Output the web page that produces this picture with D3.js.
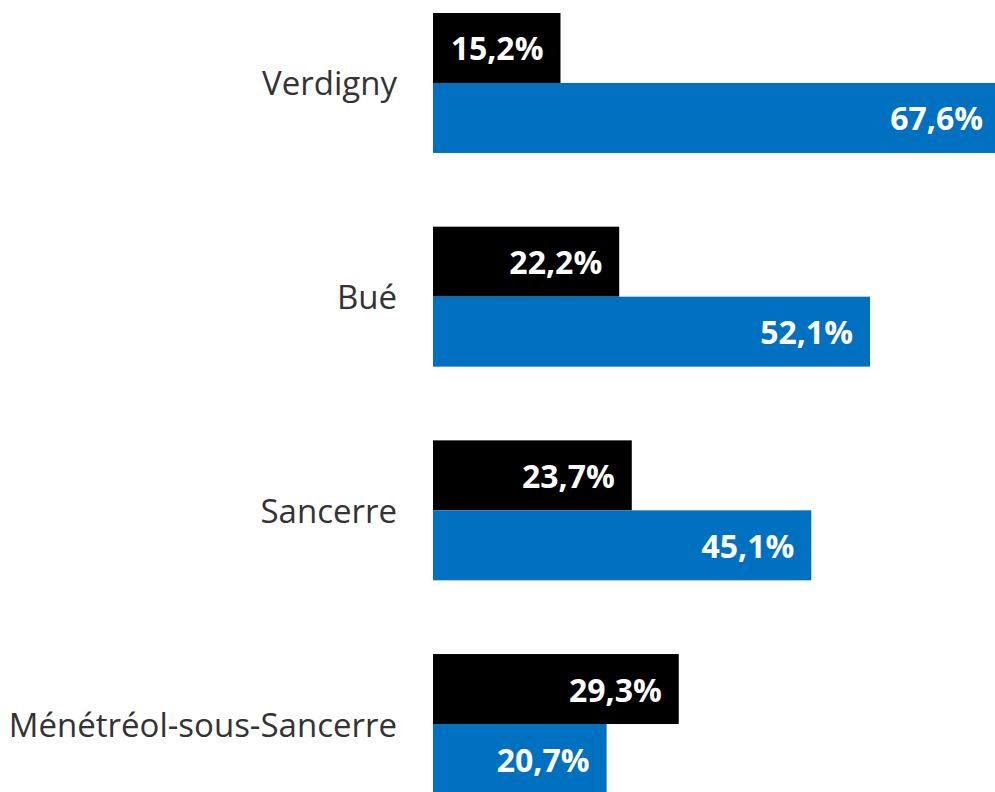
<!DOCTYPE html>
<html>
<head>
<meta charset="utf-8">
<script src="https://cdn.jsdelivr.net/npm/d3@7"></script>
<style>
  body { margin: 0; background: #ffffff; }
  svg { display: block; }
</style>
</head>
<body>
<script>
const communes = ['Verdigny', 'Bué', 'Sancerre', 'Ménétréol-sous-Sancerre'];
const seriesKeys = ['noir', 'bleu'];
const valuesNoir = [15.2, 22.2, 23.7, 29.3];
const valuesBleu = [67.6, 52.1, 45.1, 20.7];

const Constants = {
  width: 995,
  height: 792,
  barStart: 433,
  labelX: 397,
  labelPad: 17,
  font: '"Open Sans", Lato, sans-serif',
  colors: { noir: '#000000', bleu: '#0070C0' },
};

const rows = communes.map((c, i) => ({ commune: c, noir: valuesNoir[i], bleu: valuesBleu[i] }));

const svg = d3.select('body')
  .append('svg')
  .attr('width', Constants.width)
  .attr('height', Constants.height);

const x = d3.scaleLinear()
  .domain([0, 67.6])
  .range([Constants.barStart, 1000]);

const y = d3.scaleBand()
  .domain(communes)
  .range([13, 794])
  .paddingInner(0.345)
  .paddingOuter(0)
  .align(0);

const ySeries = d3.scaleBand()
  .domain(seriesKeys)
  .range([0, y.bandwidth()]);

const fmt = v => d3.format('.1f')(v).replace('.', ',') + '%';

const groups = svg.append('g')
  .selectAll('.group')
  .data(rows)
  .enter()
  .append('g')
  .attr('transform', d => `translate(0,${y(d.commune)})`);

for (const key of seriesKeys) {
  groups.append('rect')
    .attr('x', x(0))
    .attr('y', ySeries(key))
    .attr('width', d => x(d[key]) - x(0))
    .attr('height', ySeries.bandwidth())
    .style('fill', Constants.colors[key]);

  groups.append('text')
    .attr('x', d => x(d[key]) - Constants.labelPad)
    .attr('y', ySeries(key) + ySeries.bandwidth() / 2)
    .attr('text-anchor', 'end')
    .attr('dominant-baseline', 'central')
    .style('font-family', Constants.font)
    .style('font-weight', 'bold')
    .style('font-size', '32px')
    .style('fill', '#ffffff')
    .text(d => fmt(d[key]));
}

// category labels
groups.append('text')
  .attr('x', Constants.labelX)
  .attr('y', y.bandwidth() / 2)
  .attr('text-anchor', 'end')
  .attr('dominant-baseline', 'central')
  .style('font-family', Constants.font)
  .style('font-size', '33px')
  .style('fill', '#333333')
  .text(d => d.commune);
</script>
</body>
</html>
